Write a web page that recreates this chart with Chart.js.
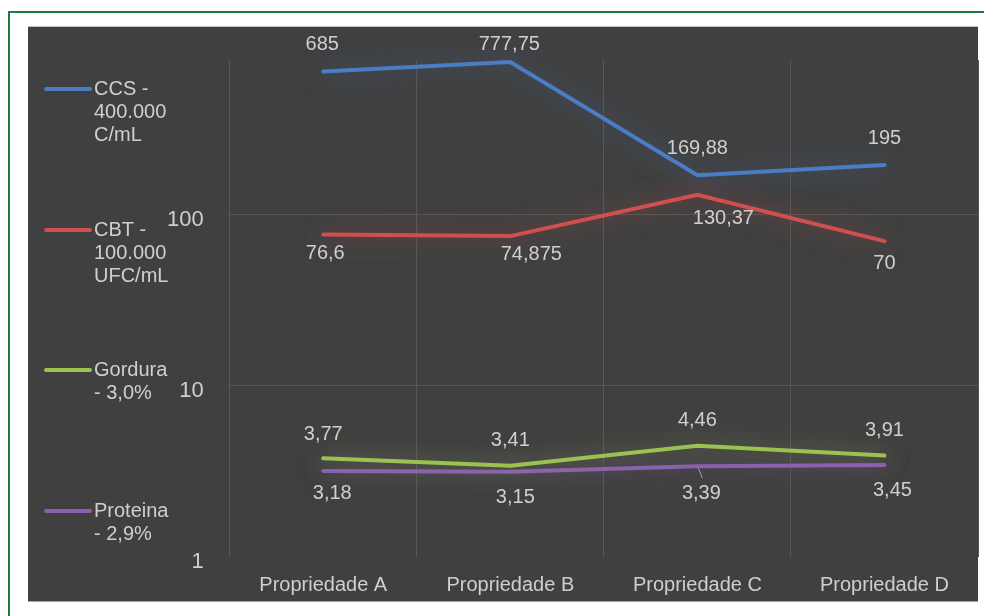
<!DOCTYPE html>
<html>
<head>
<meta charset="utf-8">
<script src="https://cdn.jsdelivr.net/npm/chart.js@4/dist/chart.umd.min.js"></script>
<style>
  html, body { margin: 0; padding: 0; background: #ffffff; }
  #wrap { width: 984px; height: 616px; position: relative; }
  canvas { display: block; }
</style>
</head>
<body>
<div id="wrap"><canvas id="c" width="984" height="616"></canvas></div>
<script>
// Milk quality indicators per farm (log scale)
const categories = ['Propriedade A', 'Propriedade B', 'Propriedade C', 'Propriedade D'];
const ccs      = [685, 777.75, 169.88, 195];
const cbt      = [76.6, 74.875, 130.37, 70];
const gordura  = [3.77, 3.41, 4.46, 3.91];
const proteina = [3.18, 3.15, 3.39, 3.45];
const seriesNames = ['CCS - 400.000 C/mL', 'CBT - 100.000 UFC/mL', 'Gordura - 3,0%', 'Proteina - 2,9%'];
const yTicks = [1, 10, 100];

const colors = ['#4a7dc4', '#d0504f', '#9bc250', '#8a5fb0'];
const glows  = ['rgba(74,125,196,0.6)', 'rgba(208,80,79,0.6)', 'rgba(155,194,80,0.55)', 'rgba(138,95,176,0.6)'];
const TEXT = '#cfcfcf';
const FONT = '"Liberation Sans", Arial, sans-serif';

const fmt = v => String(v).replace('.', ',');

// Frame: white page, green outline, dark panel
const framePlugin = {
  id: 'frame',
  beforeDraw(chart) {
    const ctx = chart.ctx;
    ctx.save();
    ctx.fillStyle = '#ffffff';
    ctx.fillRect(0, 0, chart.width, chart.height);
    ctx.fillStyle = '#1e7b45';
    ctx.fillRect(8, 11, chart.width - 8, 2);
    ctx.fillRect(8, 11, 2, chart.height - 11);
    ctx.fillStyle = '#404040';
    ctx.fillRect(28, 26, 950, 576);
    ctx.fillStyle = '#c4c4c4';
    ctx.fillRect(28, 26, 950, 1);
    ctx.fillStyle = '#a8a8a8';
    ctx.fillRect(28, 601, 950, 1);
    ctx.restore();
  }
};

// Soft glow behind each line
const glowPlugin = {
  id: 'glow',
  beforeDatasetDraw(chart, args) {
    const ctx = chart.ctx;
    ctx.save();
    ctx.shadowColor = glows[args.index];
    ctx.shadowBlur = 24;
    ctx.shadowOffsetX = 0;
    ctx.shadowOffsetY = 0;
  },
  afterDatasetDraw(chart) {
    chart.ctx.restore();
  }
};

// Value labels next to each point
const valueLabels = {
  id: 'valueLabels',
  afterDatasetsDraw(chart, args, opts) {
    const ctx = chart.ctx;
    ctx.save();
    ctx.font = '20px ' + FONT;
    ctx.fillStyle = TEXT;
    ctx.textAlign = 'center';
    ctx.textBaseline = 'middle';
    chart.data.datasets.forEach((ds, di) => {
      const meta = chart.getDatasetMeta(di);
      meta.data.forEach((pt, i) => {
        const [dx, dy] = opts.offsets[di][i];
        const x = pt.x + dx;
        const y = Math.max(pt.y + dy, opts.minY);
        ctx.fillText(fmt(ds.data[i]), x, y);
      });
    });
    // leader line
    opts.leaders.forEach(([di, i]) => {
      const pt = chart.getDatasetMeta(di).data[i];
      ctx.strokeStyle = '#a0a0a0';
      ctx.lineWidth = 1;
      ctx.beginPath();
      ctx.moveTo(pt.x + 1, pt.y + 2);
      ctx.lineTo(pt.x + 5, pt.y + 12);
      ctx.stroke();
    });
    ctx.restore();
  }
};

// Legend on the left with wrapped names
const sideLegend = {
  id: 'sideLegend',
  afterDraw(chart, args, opts) {
    const ctx = chart.ctx;
    ctx.save();
    ctx.font = '20px ' + FONT;
    ctx.fillStyle = TEXT;
    ctx.textAlign = 'left';
    ctx.textBaseline = 'middle';
    chart.data.datasets.forEach((ds, di) => {
      const y0 = opts.tops[di];
      ctx.strokeStyle = ds.borderColor;
      ctx.lineWidth = 4;
      ctx.lineCap = 'round';
      ctx.beginPath();
      ctx.moveTo(46, y0);
      ctx.lineTo(90, y0);
      ctx.stroke();
      // wrap words to the legend width
      const words = ds.label.split(' ');
      const lines = [];
      let cur = '';
      words.forEach(w => {
        const test = cur ? cur + ' ' + w : w;
        if (cur && ctx.measureText(test).width > opts.maxWidth) {
          lines.push(cur);
          cur = w;
        } else {
          cur = test;
        }
      });
      if (cur) lines.push(cur);
      lines.forEach((ln, k) => ctx.fillText(ln, 94, y0 + k * 23.3));
    });
    ctx.restore();
  }
};

const makeSet = (label, data, i) => ({
  label,
  data,
  borderColor: colors[i],
  backgroundColor: colors[i],
  borderWidth: 4,
  pointRadius: 0,
  pointHoverRadius: 0,
  tension: 0,
  borderCapStyle: 'round',
  clip: false
});

new Chart(document.getElementById('c'), {
  type: 'line',
  data: {
    labels: categories,
    datasets: [
      makeSet(seriesNames[0], ccs, 0),
      makeSet(seriesNames[1], cbt, 1),
      makeSet(seriesNames[2], gordura, 2),
      makeSet(seriesNames[3], proteina, 3)
    ]
  },
  options: {
    responsive: false,
    animation: false,
    events: [],
    layout: { padding: { left: 141, right: 6, top: 60, bottom: 3 } },
    plugins: {
      legend: { display: false },
      tooltip: { enabled: false },
      valueLabels: {
        minY: 44,
        offsets: [
          [[-1, -27], [-1, -27], [0, -27], [0, -26]],
          [[2, 19], [21, 18], [26, 24], [0, 22]],
          [[0, -24], [0, -25], [0, -25], [0, -25]],
          [[9, 22], [5, 26], [4, 27], [8, 26]]
        ],
        leaders: [[3, 2]]
      },
      sideLegend: { tops: [89, 230, 370, 511], maxWidth: 80 }
    },
    scales: {
      x: {
        type: 'category',
        offset: true,
        grid: { offset: true, color: '#575757', lineWidth: 1, drawTicks: false },
        border: { display: false },
        ticks: { color: TEXT, font: { family: FONT, size: 20 }, padding: 16, maxRotation: 0, autoSkip: false }
      },
      y: {
        type: 'logarithmic',
        min: 1,
        max: 800,
        afterBuildTicks: axis => { axis.ticks = yTicks.map(v => ({ value: v })); },
        grid: {
          color: ctx => (ctx.tick && ctx.tick.value === 1 ? 'rgba(0,0,0,0)' : '#575757'),
          lineWidth: 1,
          drawTicks: false
        },
        border: { display: false },
        ticks: {
          color: TEXT,
          font: { family: FONT, size: 22 },
          padding: 26,
          labelOffset: 5,
          callback: v => String(v)
        }
      }
    }
  },
  plugins: [framePlugin, glowPlugin, valueLabels, sideLegend]
});
</script>
</body>
</html>
